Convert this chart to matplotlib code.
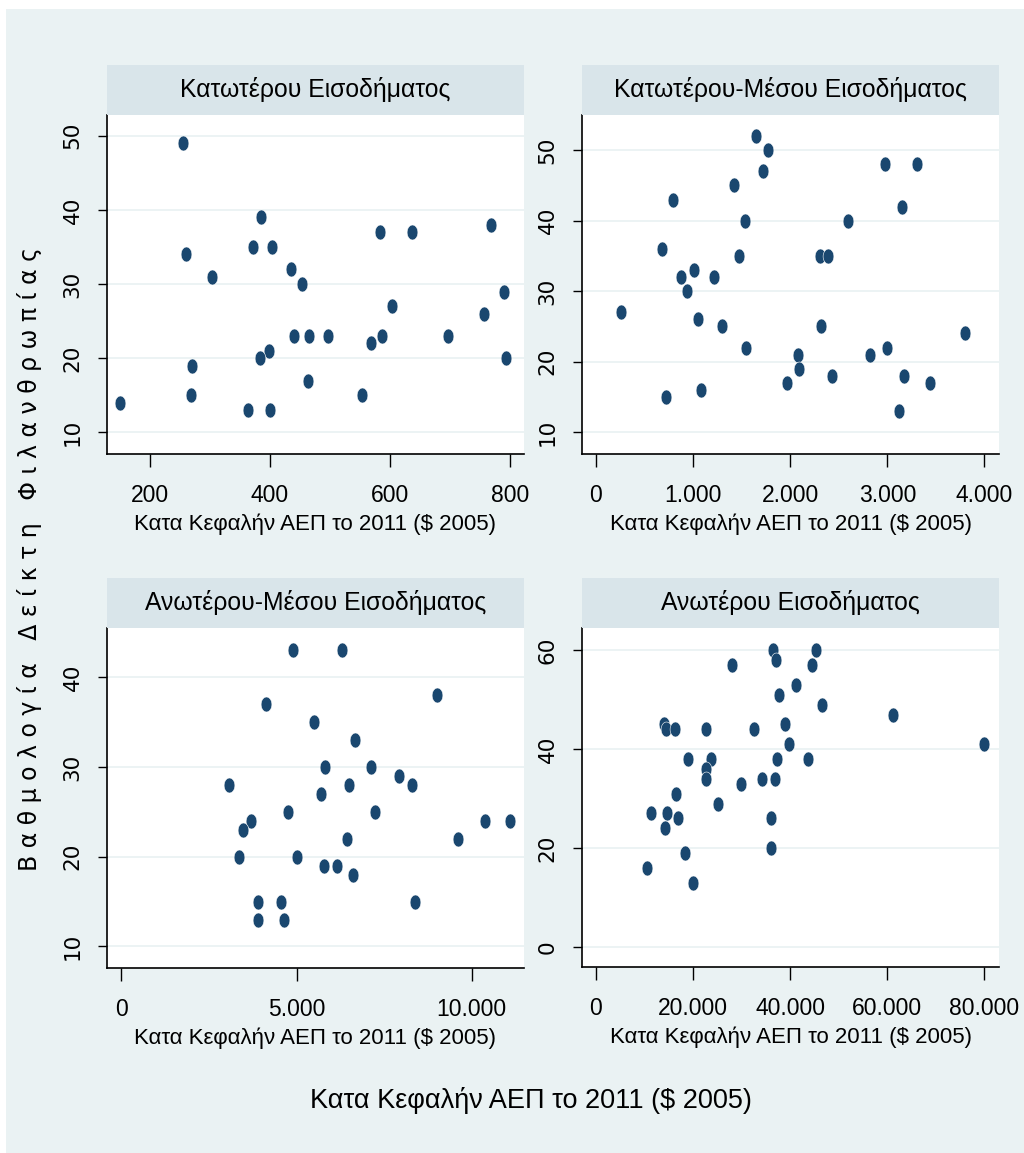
import matplotlib
matplotlib.use("Agg")
import matplotlib.pyplot as plt
from matplotlib.path import Path
from matplotlib.ticker import FuncFormatter
import numpy as np

# data
low_x = [256, 385, 584, 637, 768, 261, 372, 404, 304, 436, 453, 789, 603, 756, 441,
         466, 496, 587, 697, 569, 399, 384, 793, 271, 463, 268, 553, 151, 364, 400]
low_y = [49, 39, 37, 37, 38, 34, 35, 35, 31, 32, 30, 29, 27, 26, 23,
         23, 23, 23, 23, 22, 21, 20, 20, 19, 17, 15, 15, 14, 13, 13]

lowmid_x = [1643, 1767, 1718, 1423, 2977, 3310, 792, 3152, 1533, 2590, 682, 1471,
            2302, 2387, 1008, 878, 1211, 940, 257, 1046, 1297, 2315, 3800, 1547,
            2994, 2079, 2823, 2086, 2432, 3169, 1962, 3440, 1080, 720, 3118]
lowmid_y = [52, 50, 47, 45, 48, 48, 43, 42, 40, 40, 36, 35,
            35, 35, 33, 32, 32, 30, 27, 26, 25, 25, 24, 22,
            22, 21, 21, 19, 18, 18, 17, 17, 16, 15, 13]

upmid_x = [4903, 6294, 9017, 4123, 5494, 6665, 5800, 7132, 7914, 3075, 6503, 8285,
           5703, 4761, 7237, 3694, 10371, 11085, 3466, 6446, 9600, 3360, 5000, 5780,
           6151, 6617, 3894, 4551, 8388, 3894, 4637]
upmid_y = [43, 43, 38, 37, 35, 33, 30, 30, 29, 28, 28, 28,
           27, 25, 25, 24, 24, 24, 23, 22, 22, 20, 20, 19,
           19, 18, 15, 15, 15, 13, 13]

high_x = [36427, 45276, 36982, 27989, 44390, 41222, 37600, 46511, 61185, 13933,
          14406, 16258, 22576, 32455, 38896, 39782, 79914, 18996, 23667, 37250,
          43630, 22700, 22576, 34225, 36838, 29779, 16396, 25176, 11319, 14612,
          16944, 36015, 14268, 18384, 36015, 10563, 20034]
high_y = [60, 60, 58, 57, 57, 53, 51, 49, 47, 45,
          44, 44, 44, 44, 45, 41, 41, 38, 38, 38,
          38, 36, 34, 34, 34, 33, 31, 29, 27, 27,
          26, 26, 24, 19, 20, 16, 13]

titles = ["Κατωτέρου Εισοδήματος", "Κατωτέρου-Μέσου Εισοδήματος",
          "Ανωτέρου-Μέσου Εισοδήματος", "Ανωτέρου Εισοδήματος"]
xlabel = "Κατα Κεφαλήν ΑΕΠ το 2011 ($ 2005)"
ylabel = "Β α θ μ ο λ ο γ ί α   Δ ε ί κ τ η   Φ ι λ α ν θ ρ ω π ί α ς"

xticks = [[200, 400, 600, 800], [0, 1000, 2000, 3000, 4000],
          [0, 5000, 10000], [0, 20000, 40000, 60000, 80000]]
yticks = [[10, 20, 30, 40, 50], [10, 20, 30, 40, 50],
          [10, 20, 30, 40], [0, 20, 40, 60]]
xlims = [(129, 823), (-144, 4150), (-411, 11494), (-2881, 83000)]
ylims = [(7.1, 52.8), (6.9, 55), (7.6, 45.5), (-4.05, 64.5)]

BG = "#eaf2f3"
STRIP = "#d9e5ea"
NAVY = "#1a476f"
NARROW = ["Liberation Sans", "DejaVu Sans"]
WIDE = ["DejaVu Sans"]

W, H = 1024, 1153
fig = plt.figure(figsize=(W / 100, H / 100), dpi=100)
fig.patch.set_facecolor("white")
fig.patches.append(plt.Rectangle((6 / W, 0), 1, 1 - 9 / H, transform=fig.transFigure,
                                 facecolor=BG, edgecolor="none", zorder=-10))

t = np.linspace(0, 2 * np.pi, 40)
ellipse = Path(np.column_stack([0.36 * np.cos(t), 0.5 * np.sin(t)]), closed=True)


def dots(x):
    return "{:,.0f}".format(x).replace(",", ".")


boxes = [(107, 115, 524, 454), (582, 115, 999, 454),
         (107, 628, 524, 968), (582, 628, 999, 967)]
data = [(low_x, low_y), (lowmid_x, lowmid_y), (upmid_x, upmid_y), (high_x, high_y)]

for i, (l, t_, r, b) in enumerate(boxes):
    ax = fig.add_axes([l / W, 1 - b / H, (r - l) / W, (b - t_) / H])
    ax.set_facecolor("white")
    ax.plot(data[i][0], data[i][1], linestyle="none", marker=ellipse, markersize=10.8,
            color=NAVY, markeredgecolor="white", markeredgewidth=0.4, zorder=3)
    ax.set_xlim(xlims[i])
    ax.set_ylim(ylims[i])
    ax.set_xticks(xticks[i])
    ax.set_yticks(yticks[i])
    if i == 0:
        ax.xaxis.set_major_formatter(FuncFormatter(lambda v, p: "%d" % v))
    else:
        ax.xaxis.set_major_formatter(FuncFormatter(lambda v, p: dots(v)))
    ax.grid(axis="y", color=BG, linewidth=1.3)
    ax.set_axisbelow(True)
    for s in ["top", "right"]:
        ax.spines[s].set_visible(False)
    for s in ["left", "bottom"]:
        ax.spines[s].set_linewidth(1.2)
    ax.tick_params(axis="x", length=9.5, width=1.0, pad=12, labelsize=16.5)
    ax.tick_params(axis="y", length=6.5, width=1.0, pad=11, labelsize=15.5)
    for lab in ax.get_xticklabels():
        lab.set_family(NARROW)
    for lab in ax.get_yticklabels():
        lab.set_family(WIDE)
        lab.set_rotation(90)
        lab.set_va("center")
    ax.set_xlabel(xlabel, family=NARROW, fontsize=16, labelpad=5)

    # title strip
    sax = fig.add_axes([l / W, 1 - t_ / H, (r - l) / W, 50 / H])
    sax.set_facecolor(STRIP)
    sax.set_xticks([])
    sax.set_yticks([])
    for s in sax.spines.values():
        s.set_visible(False)
    sax.text(0.5, 0.5, titles[i], ha="center", va="center", family=NARROW,
             fontsize=17.8, transform=sax.transAxes)

fig.text(30 / W, 1 - 559 / H, ylabel, rotation=90, ha="center", va="center",
         family=WIDE, fontsize=17)
fig.text(531 / W, 1 - 1100 / H, xlabel, ha="center", va="center",
         family=NARROW, fontsize=19.5)

fig.savefig("out.png", dpi=100, facecolor=fig.get_facecolor())
